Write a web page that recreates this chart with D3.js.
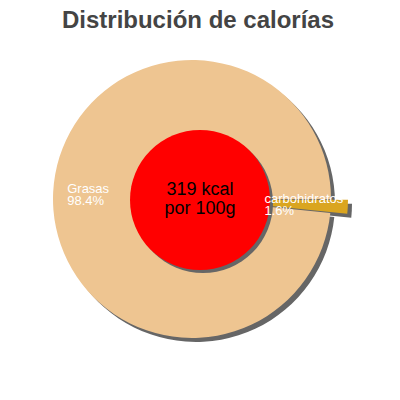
<!DOCTYPE html>
<html>
<head>
<meta charset="utf-8">
<script src="https://cdn.jsdelivr.net/npm/d3@7"></script>
<style>
  body { margin: 0; background: #fff; }
  svg { display: block; font-family: "Liberation Sans", Arial, sans-serif; }
</style>
</head>
<body>
<svg id="chart" width="400" height="400"></svg>
<script>
// data
let categories = ['carbohidratos', 'Grasas']
let percents = [1.6, 98.4]
let colors = ['#daa520', '#eec591']
let centerLines = ['319 kcal', 'por 100g']
let title = 'Distribución de calorías'

// layout
let width = 400
let height = 400
let cx = 192
let cy = 199
let radius = 139
let explode = 17
let labelRadius = 104
let shadow = 4

let svg = d3.select('#chart')

svg.append('text')
  .attr('x', 198)
  .attr('y', 28)
  .attr('text-anchor', 'middle')
  .style('font-size', '24px')
  .style('font-weight', 'bold')
  .style('fill', '#444')
  .text(title)

let data = categories.map((c, i) => ({ name: c, value: percents[i], color: colors[i] }))

// carbs starts at 3 o'clock, everything else follows clockwise
let pie = d3.pie()
  .value(d => d.value)
  .sort(null)
  .startAngle(Math.PI / 2)
  .endAngle(Math.PI / 2 + 2 * Math.PI)

let arcs = pie(data)
let arc = d3.arc().innerRadius(0).outerRadius(radius)
let labelArc = d3.arc().innerRadius(labelRadius).outerRadius(labelRadius)

function offset(d) {
  if (d.data.name === 'Grasas') return [0, 0]
  let mid = (d.startAngle + d.endAngle) / 2
  return [explode * Math.sin(mid), -explode * Math.cos(mid)]
}

let g = svg.append('g').attr('transform', `translate(${cx},${cy})`)

// shadows
g.selectAll('path.shadow')
  .data(arcs)
  .join('path')
  .attr('class', 'shadow')
  .attr('d', arc)
  .attr('transform', d => {
    let o = offset(d)
    return `translate(${o[0] + shadow},${o[1] + shadow})`
  })
  .style('fill', '#666')

g.selectAll('path.slice')
  .data(arcs)
  .join('path')
  .attr('class', 'slice')
  .attr('d', arc)
  .attr('transform', d => {
    let o = offset(d)
    return `translate(${o[0]},${o[1]})`
  })
  .style('fill', d => d.data.color)

// center disc
let disc = svg.append('g').attr('transform', 'translate(200,200)')
disc.append('circle')
  .attr('cx', 3)
  .attr('cy', 3)
  .attr('r', 70)
  .style('fill', '#666')
disc.append('circle')
  .attr('r', 70)
  .style('fill', '#ff0000')

disc.selectAll('text.center')
  .data(centerLines)
  .join('text')
  .attr('class', 'center')
  .attr('text-anchor', 'middle')
  .attr('y', (d, i) => -5 + i * 19)
  .style('font-size', '18px')
  .style('fill', '#000')
  .text(d => d)

// slice labels, cut off at the right like the original
svg.append('clipPath').attr('id', 'labelclip')
  .append('rect')
  .attr('x', 0).attr('y', 0).attr('width', 348).attr('height', height)

let labels = svg.append('g')
  .attr('clip-path', 'url(#labelclip)')
  .append('g')
  .attr('transform', `translate(${cx},${cy})`)

labels.selectAll('text.label')
  .data(arcs)
  .join('text')
  .attr('class', 'label')
  .style('font-size', '13px')
  .style('fill', '#fff')
  .each(function(d) {
    let t = d3.select(this)
    let c = labelArc.centroid(d)
    t.append('tspan').text(d.data.name)
    t.append('tspan').text(d.data.value + '%')
    let w = d3.max(t.selectAll('tspan').nodes(), n => n.getComputedTextLength())
    let x0 = c[0] - w / 2 + (d.data.name === 'Grasas' ? 0 : 8)
    t.selectAll('tspan')
      .attr('x', x0)
      .attr('y', (e, i) => c[1] - 1 + i * 12)
  })
</script>
</body>
</html>
